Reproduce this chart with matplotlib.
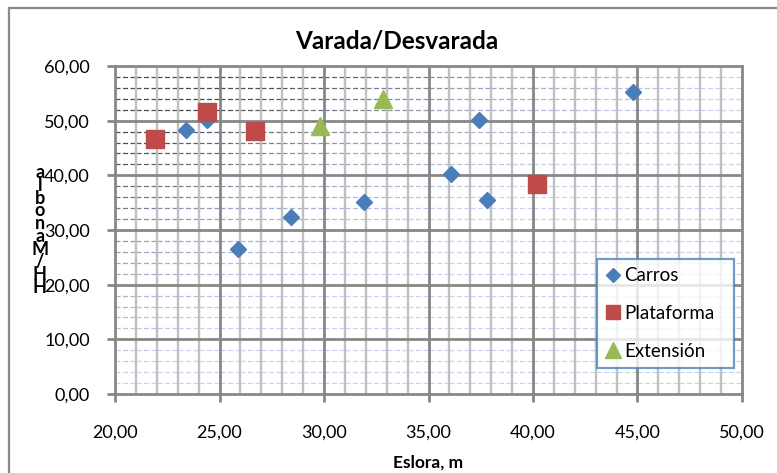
import numpy as np
import matplotlib.pyplot as plt
from matplotlib.collections import LineCollection
from matplotlib.colors import LinearSegmentedColormap
from matplotlib.patches import Rectangle

# data
carros_x = [23.4, 24.4, 25.9, 28.4, 31.9, 36.1, 37.4, 37.8, 44.8]
carros_y = [48.3, 50.2, 26.5, 32.3, 35.2, 40.2, 50.1, 35.5, 55.2]
plataforma_x = [21.9, 24.4, 26.7, 40.2]
plataforma_y = [46.6, 51.6, 48.1, 38.5]
extension_x = [29.8, 32.8]
extension_y = [49.1, 54.0]

x_ticks = [20, 25, 30, 35, 40, 45, 50]
y_ticks = [0, 10, 20, 30, 40, 50, 60]
ylabel_chars = ["a", "l", "b", "o", "n", "a", "M", "/", "H", "H"]

FONT = ["Lato", "DejaVu Sans"]
plt.rcParams['font.family'] = FONT

fig = plt.figure(figsize=(7.77, 4.73), dpi=100)
ax = fig.add_axes([115 / 777, 1 - 394 / 473, 627 / 777, 328 / 473])
ax.set_xlim(20, 50)
ax.set_ylim(0, 60)

grid_major = "#878787"
grid_minor = "#c0c0c0"

# minor horizontal dashed lines, shaded dark at the top left to light blue
cmap = LinearSegmentedColormap.from_list("shade", ["#c6d4ee", "#9aa6bd", "#454c5c"])
segs, cols = [], []
for y in range(2, 60, 2):
    if y % 10 == 0:
        continue
    for x0 in range(20, 50):
        s = y - 1.8 * (x0 + 0.5 - 20)
        t = np.clip((s - 4) / 40, 0, 1)
        segs.append([(x0, y), (x0 + 1, y)])
        cols.append(cmap(t))
ax.add_collection(LineCollection(segs, colors=cols, linewidths=0.9,
                                 linestyles=(0, (4, 2)), zorder=1))

# minor vertical lines
for x in range(21, 50):
    if x % 5:
        ax.axvline(x, color=grid_minor, lw=1.7, zorder=2)
# major grid
for x in x_ticks[1:-1]:
    ax.axvline(x, color=grid_major, lw=2.0, zorder=3)
for y in y_ticks[1:-1]:
    ax.axhline(y, color=grid_major, lw=2.0, zorder=3)

for sp in ax.spines.values():
    sp.set_color(grid_major)
    sp.set_linewidth(2.0)
    sp.set_zorder(4)

ax.plot(carros_x, carros_y, ls="none", marker="D", ms=8.6, color="#4a7ebb",
        mec="#4a7ebb", label="Carros", zorder=5)
ax.plot(plataforma_x, plataforma_y, ls="none", marker="s", ms=12.5, color="#be4b48",
        mec="#be4b48", label="Plataforma", zorder=5)
ax.plot(extension_x, extension_y, ls="none", marker="^", ms=13.5, color="#98b954",
        mec="#98b954", label="Extensión", zorder=5)

ax.set_xticks(x_ticks)
ax.set_yticks(y_ticks)
ax.set_xticklabels([f"{v:.2f}".replace(".", ",") for v in x_ticks])
ax.set_yticklabels([f"{v:.2f}".replace(".", ",") for v in y_ticks])
ax.tick_params(direction="out", length=6, width=2, color=grid_major,
               labelsize=13, labelcolor="black", pad=12)
ax.tick_params(axis="x", pad=16)

fig.text(397 / 777, 1 - 41 / 473, "Varada/Desvarada", ha="center", va="center",
         fontsize=17.5, fontweight="bold")
ax.set_xlabel("Eslora, m", fontsize=12.5, fontweight="bold", labelpad=10)

fig.text(40 / 777, 1 - 230 / 473, "\n".join(ylabel_chars), ha="center", va="center",
         fontsize=13, fontweight="bold", linespacing=0.7)

leg = ax.legend(loc="lower left", bbox_to_anchor=(597 / 777, 1 - 368 / 473, 137 / 777, 117 / 473),
                bbox_transform=fig.transFigure, mode="expand", frameon=True, fancybox=False,
                fontsize=13.5, markerscale=0.85, handlelength=0.8, handletextpad=0.2,
                labelspacing=1.1, borderpad=0.45, borderaxespad=0)
leg.get_frame().set_edgecolor("#4f81bd")
leg.get_frame().set_linewidth(1.6)
leg.set_zorder(6)

# chart area border
fig.patches.append(Rectangle((9 / 777, -0.1), 1.0, 1.1 - 8 / 473, transform=fig.transFigure,
                             fill=False, edgecolor="#8a8a8a", lw=1.6))

fig.savefig("out.png", dpi=100)
